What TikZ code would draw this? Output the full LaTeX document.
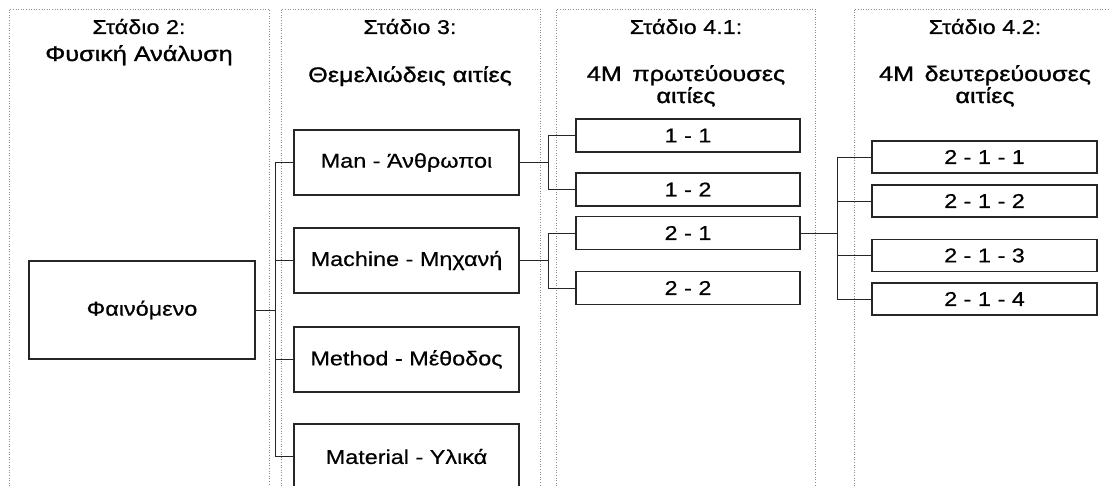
\documentclass[tikz,border=0pt]{standalone}
\usepackage{fontspec}
\setmainfont{Liberation Sans}[FakeStretch=1.17, FakeBold=0.5]
\newfontfamily\subfont{Liberation Sans}[FakeStretch=1.2, FakeBold=1.2]
\begin{document}
\begin{tikzpicture}[x=1pt,y=-1pt,
  panel/.style={draw=black!45, line width=0.6pt, dotted},
  box/.style={draw=black!85, line width=1.3pt, inner sep=0pt, text=black,
    font=\fontsize{20}{22}\selectfont},
  bigbox/.style={box, minimum width=225pt, minimum height=65pt},
  smallbox/.style={box, minimum width=224pt, minimum height=33pt},
  title/.style={anchor=base, text=black, font=\fontsize{20}{22}\selectfont},
  subtitle/.style={title, font=\fontsize{21}{23}\subfont},
  conn/.style={draw=black!85, line width=0.9pt}]
\useasboundingbox (0,0) rectangle (1110,486);
% panels
\draw[panel] (9,486) -- (9,9) -- (269,9) -- (269,486);
\draw[panel] (281,486) -- (281,9) -- (540,9) -- (540,486);
\draw[panel] (556,486) -- (556,9) -- (815,9) -- (815,486);
\draw[panel] (854,486) -- (854,9) -- (1110,9);
% titles
\node[title] (t2a) at (139,34) {Στάδιο 2:};
\node[subtitle] (t2b) at (139,61) {Φυσική Ανάλυση};
\node[title] (t3a) at (410,34) {Στάδιο 3:};
\node[subtitle] (t3b) at (410,82) {Θεμελιώδεις αιτίες};
\node[title] (t41a) at (686,34) {Στάδιο 4.1:};
\node[subtitle] (t41b) at (686,81) {4M\hspace{0.5em}πρωτεύουσες};
\node[subtitle] (t41c) at (686,103) {αιτίες};
\node[title] (t42a) at (985,34) {Στάδιο 4.2:};
\node[subtitle] (t42b) at (985,81) {4M\hspace{0.5em}δευτερεύουσες};
\node[subtitle] (t42c) at (985,103) {αιτίες};
% boxes
\node[box, minimum width=226pt, minimum height=98pt] (phen) at (142,310) {Φαινόμενο};
\node[bigbox] (man) at (406.5,162.5) {Man - Άνθρωποι};
\node[bigbox] (mach) at (406.5,260.5) {Machine - Μηχανή};
\node[bigbox] (meth) at (406.5,359.5) {Method - Μέθοδος};
\node[bigbox] (mat) at (406.5,456.5) {Material - Υλικά};
\node[smallbox] (b11) at (688,135.5) {1 - 1};
\node[smallbox] (b12) at (688,189.5) {1 - 2};
\node[smallbox] (b21) at (688,233) {2 - 1};
\node[smallbox] (b22) at (688,288) {2 - 2};
\node[smallbox, minimum width=225pt, minimum height=32pt] (c1) at (984.5,157) {2 - 1 - 1};
\node[smallbox, minimum width=225pt, minimum height=32pt] (c2) at (984.5,201) {2 - 1 - 2};
\node[smallbox, minimum width=225pt, minimum height=32pt] (c3) at (984.5,255.5) {2 - 1 - 3};
\node[smallbox, minimum width=225pt, minimum height=32pt] (c4) at (984.5,299) {2 - 1 - 4};
% junction coordinates
\coordinate (j1) at (275,0);
\coordinate (j2) at (548,0);
\coordinate (j3) at (837,0);
% connectors
\draw[conn] (phen.east) -- (phen.east -| j1);
\draw[conn] (man.west -| j1) -- (mat.west -| j1);
\foreach \n in {man,mach,meth,mat} \draw[conn] (\n.west) -- (\n.west -| j1);
\draw[conn] (man.east) -- (man.east -| j2);
\draw[conn] (b11.west) -| (j2 |- b12.west) -- (b12.west);
\draw[conn] (mach.east) -- (mach.east -| j2);
\draw[conn] (b21.west) -| (j2 |- b22.west) -- (b22.west);
\draw[conn] (b21.east) -- (b21.east -| j3);
\draw[conn] (c1.west) -| (j3 |- c4.west) -- (c4.west);
\draw[conn] (c2.west) -- (c2.west -| j3);
\draw[conn] (c3.west) -- (c3.west -| j3);
\end{tikzpicture}
\end{document}
